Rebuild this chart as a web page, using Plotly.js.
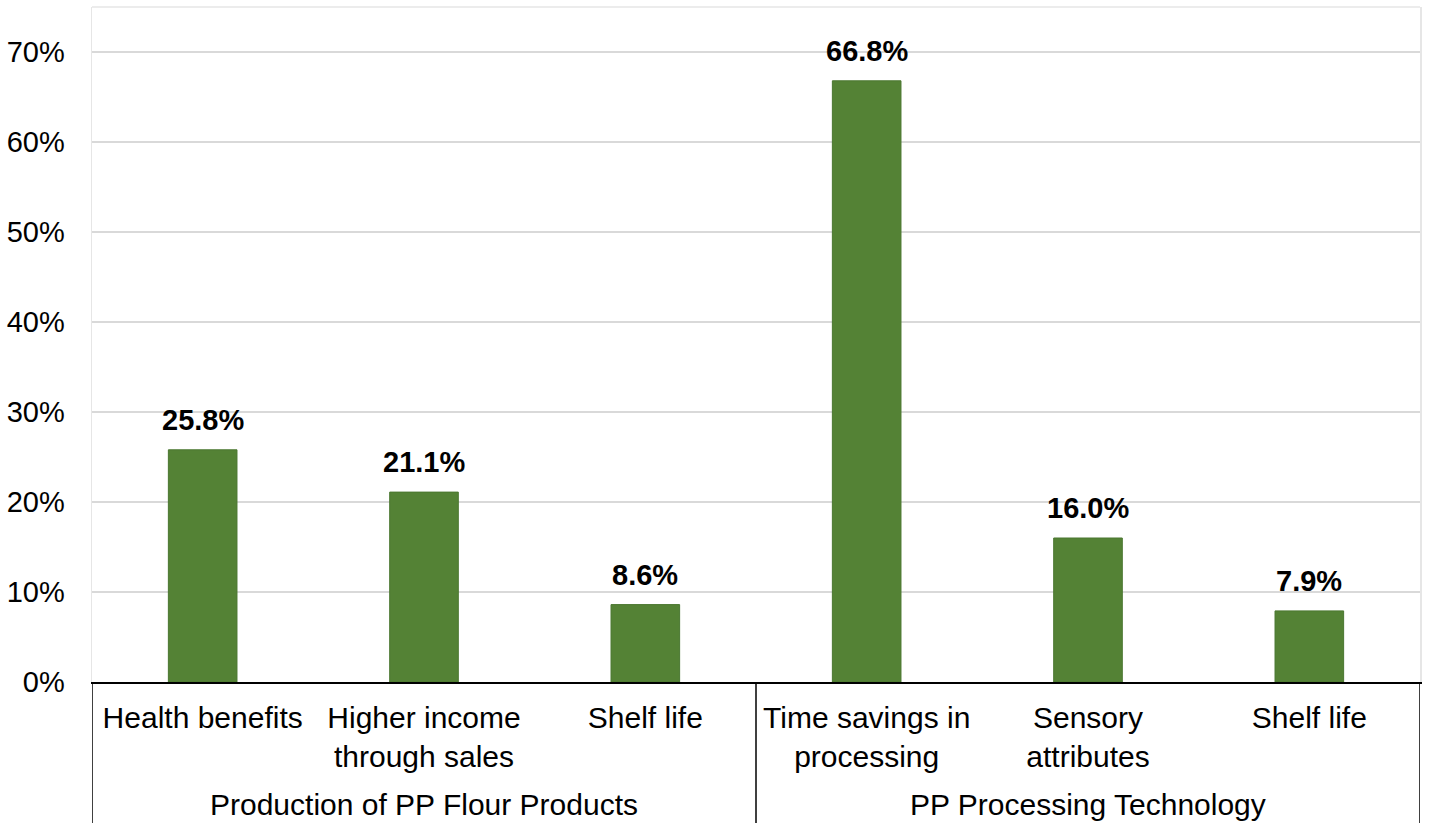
<!DOCTYPE html>
<html>
<head>
<meta charset="utf-8">
<script src="https://cdn.plot.ly/plotly-3.0.1.min.js"></script>
<style>html,body{margin:0;padding:0;background:#fff;}#chart{width:1429px;height:832px;}</style>
</head>
<body>
<div id="chart"></div>
<script>
const groupNames = ["Production of PP Flour Products", "PP Processing Technology"];
const groupOf = [0, 0, 0, 1, 1, 1];
const categories = ["Health benefits", "Higher income<br>through sales", "Shelf life", "Time savings in<br>processing", "Sensory<br>attributes", "Shelf life"];
const values = [25.8, 21.1, 8.6, 66.8, 16.0, 7.9];
const yTicks = [0, 10, 20, 30, 40, 50, 60, 70];

const FONT = '"Liberation Sans", Arial, sans-serif';
const idx = categories.map((_, i) => i);

const trace = {
  type: 'bar',
  x: idx,
  y: values,
  marker: {color: '#548235', line: {color: '#4a7730', width: 1}},
  width: 0.31,
  hoverinfo: 'none'
};

// value labels
const annotations = values.map((v, i) => ({
  x: i, xref: 'x', yref: 'y', y: v,
  text: '<b>' + v.toFixed(1) + '%</b>',
  showarrow: false, yanchor: 'bottom', yshift: 12,
  font: {family: FONT, size: 29, color: '#000'}
}));

// group labels and dividers, computed from the group membership
const shapes = [
  {type: 'line', xref: 'paper', yref: 'paper', x0: 0, x1: 1, y0: 1, y1: 1,
   line: {color: '#e6e6e6', width: 1.5}, layer: 'below'}
];
const DIV_BOTTOM = -0.209;
groupNames.forEach((g, gi) => {
  const members = idx.filter(i => groupOf[i] === gi);
  const lo = Math.min(...members) - 0.5, hi = Math.max(...members) + 0.5;
  annotations.push({
    x: (lo + hi) / 2, xref: 'x', yref: 'paper', y: -0.182,
    text: g, showarrow: false, yanchor: 'middle',
    font: {family: FONT, size: 30, color: '#000'}
  });
  if (gi === 0) {
    shapes.push({type: 'line', xref: 'x', yref: 'paper', x0: lo, x1: lo, y0: 0, y1: DIV_BOTTOM,
      line: {color: '#000', width: 1.5}});
  }
  shapes.push({type: 'line', xref: 'x', yref: 'paper', x0: hi, x1: hi, y0: 0, y1: DIV_BOTTOM,
    line: {color: '#000', width: 1.5}});
});

const layout = {
  width: 1429, height: 832,
  margin: {l: 92, r: 9, t: 7, b: 150},
  paper_bgcolor: '#fff', plot_bgcolor: '#fff',
  font: {family: FONT, size: 29, color: '#000'},
  showlegend: false,
  xaxis: {
    range: [-0.5, 5.5],
    tickvals: idx,
    ticktext: categories,
    showline: true, linecolor: '#000', linewidth: 1.5,
    ticks: '', showgrid: false, zeroline: false,
    ticklabelstandoff: 8,
    tickfont: {family: FONT, size: 30, color: '#000'}
  },
  yaxis: {
    range: [0, 75],
    tickvals: yTicks,
    ticktext: yTicks.map(t => t + '%'),
    showgrid: true, gridcolor: '#d9d9d9', gridwidth: 2,
    showline: true, linecolor: '#e6e6e6', linewidth: 1.5, mirror: true,
    zeroline: false, ticks: '',
    ticklabelstandoff: 20,
    tickfont: {family: FONT, size: 29, color: '#000'}
  },
  shapes: shapes,
  annotations: annotations
};

Plotly.newPlot('chart', [trace], layout, {displayModeBar: false, staticPlot: true});
</script>
</body>
</html>
